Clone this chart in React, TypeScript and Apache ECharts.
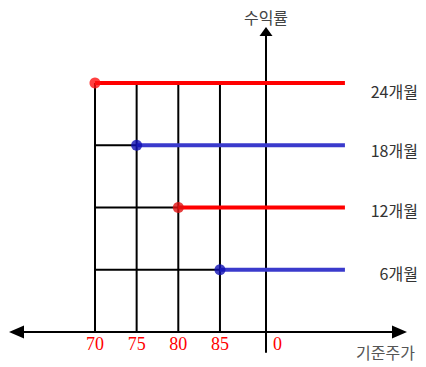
import React, { useEffect, useRef } from "react";
import * as echarts from "echarts";

// Periods (series), their strike prices and return levels
const PERIODS = ["24개월", "18개월", "12개월", "6개월"];
const STRIKES = [70, 75, 80, 85];
const LEVELS = [4, 3, 2, 1];
const LINE_END = 100;
const LINE_COLORS = ["#ff0000", "#3a3acc", "#ff0000", "#3a3acc"];
const DOT_COLORS = ["#ff1010", "#1212b4", "#e01010", "#1212b4"];
const LABEL_DY = [8, 5, 2, 3];

// Horizontal axis tick labels
const TICK_VALUES = [70, 75, 80, 85, 91.9];
const TICK_LABELS = ["70", "75", "80", "85", "0"];

const X_MIN = 60.58;
const X_MAX = 106.55;
const Y_MIN = -0.321;
const Y_MAX = 4.827;

export default function App() {
  const ref = useRef<HTMLDivElement>(null);

  useEffect(() => {
    document.body.style.margin = "0";
    if (!ref.current) return;
    const chart = echarts.init(ref.current, null, { renderer: "svg" });

    const topLevel = Math.max(...LEVELS);
    const guideData: any[] = [];
    STRIKES.forEach((s, i) => {
      guideData.push([s, 0], [s, topLevel], "-");
      if (s !== STRIKES[0]) {
        guideData.push([STRIKES[0], LEVELS[i]], [s, LEVELS[i]], "-");
      }
    });

    const series: any[] = [
      {
        type: "line",
        name: "guides",
        data: guideData,
        symbol: "none",
        connectNulls: false,
        lineStyle: { color: "#000", width: 2 },
        z: 1,
        silent: true,
      },
      ...PERIODS.map((p, i) => ({
        type: "line",
        name: p,
        data: [
          [STRIKES[i], LEVELS[i]],
          [LINE_END, LEVELS[i]],
        ],
        symbol: "none",
        lineStyle: { color: LINE_COLORS[i], width: 4 },
        z: 2,
        endLabel: {
          show: true,
          formatter: p,
          color: "#333",
          fontSize: 16,
          fontFamily: "Noto Sans CJK KR",
          align: "right",
          distance: 73,
          offset: [0, LABEL_DY[i]],
        },
      })),
      {
        type: "scatter",
        name: "dots",
        symbolSize: 11,
        z: 3,
        data: STRIKES.map((s, i) => ({
          value: [s, LEVELS[i]],
          itemStyle: { color: DOT_COLORS[i] },
        })),
      },
    ];

    chart.setOption({
      animation: false,
      backgroundColor: "#ffffff",
      grid: {
        left: 16.5,
        right: 26.5,
        top: 31.5,
        bottom: 15,
        containLabel: false,
        outerBoundsMode: "none",
      },
      xAxis: {
        type: "value",
        min: X_MIN,
        max: X_MAX,
        splitLine: { show: false },
        axisTick: { show: false },
        axisLine: {
          onZero: true,
          symbol: ["triangle", "triangle"],
          symbolSize: [13, 15],
          lineStyle: { color: "#000", width: 2 },
        },
        axisLabel: {
          customValues: TICK_VALUES,
          formatter: (v: number) => {
            const idx = TICK_VALUES.findIndex((t) => Math.abs(t - v) < 1e-6);
            return idx >= 0 ? TICK_LABELS[idx] : "";
          },
          color: "#ff0000",
          fontSize: 18,
          fontFamily: "Liberation Serif",
          margin: -17,
        },
      },
      yAxis: {
        type: "value",
        min: Y_MIN,
        max: Y_MAX,
        offset: -249.5,
        name: "수익률",
        nameLocation: "end",
        nameGap: 7,
        nameTextStyle: {
          color: "#444",
          fontSize: 16,
          fontFamily: "Noto Sans CJK KR",
        },
        splitLine: { show: false },
        axisTick: { show: false },
        axisLabel: { show: false },
        axisLine: {
          onZero: false,
          symbol: ["none", "triangle"],
          symbolSize: [13, 9],
          lineStyle: { color: "#000", width: 2 },
        },
      },
      graphic: [
        {
          type: "text",
          left: 356,
          top: 344,
          style: {
            text: "기준주가",
            fill: "#555",
            fontSize: 16,
            fontFamily: "Noto Sans CJK KR",
          },
        },
      ],
      series,
    });

    return () => chart.dispose();
  }, []);

  return <div ref={ref} style={{ width: 426, height: 367 }} />;
}
